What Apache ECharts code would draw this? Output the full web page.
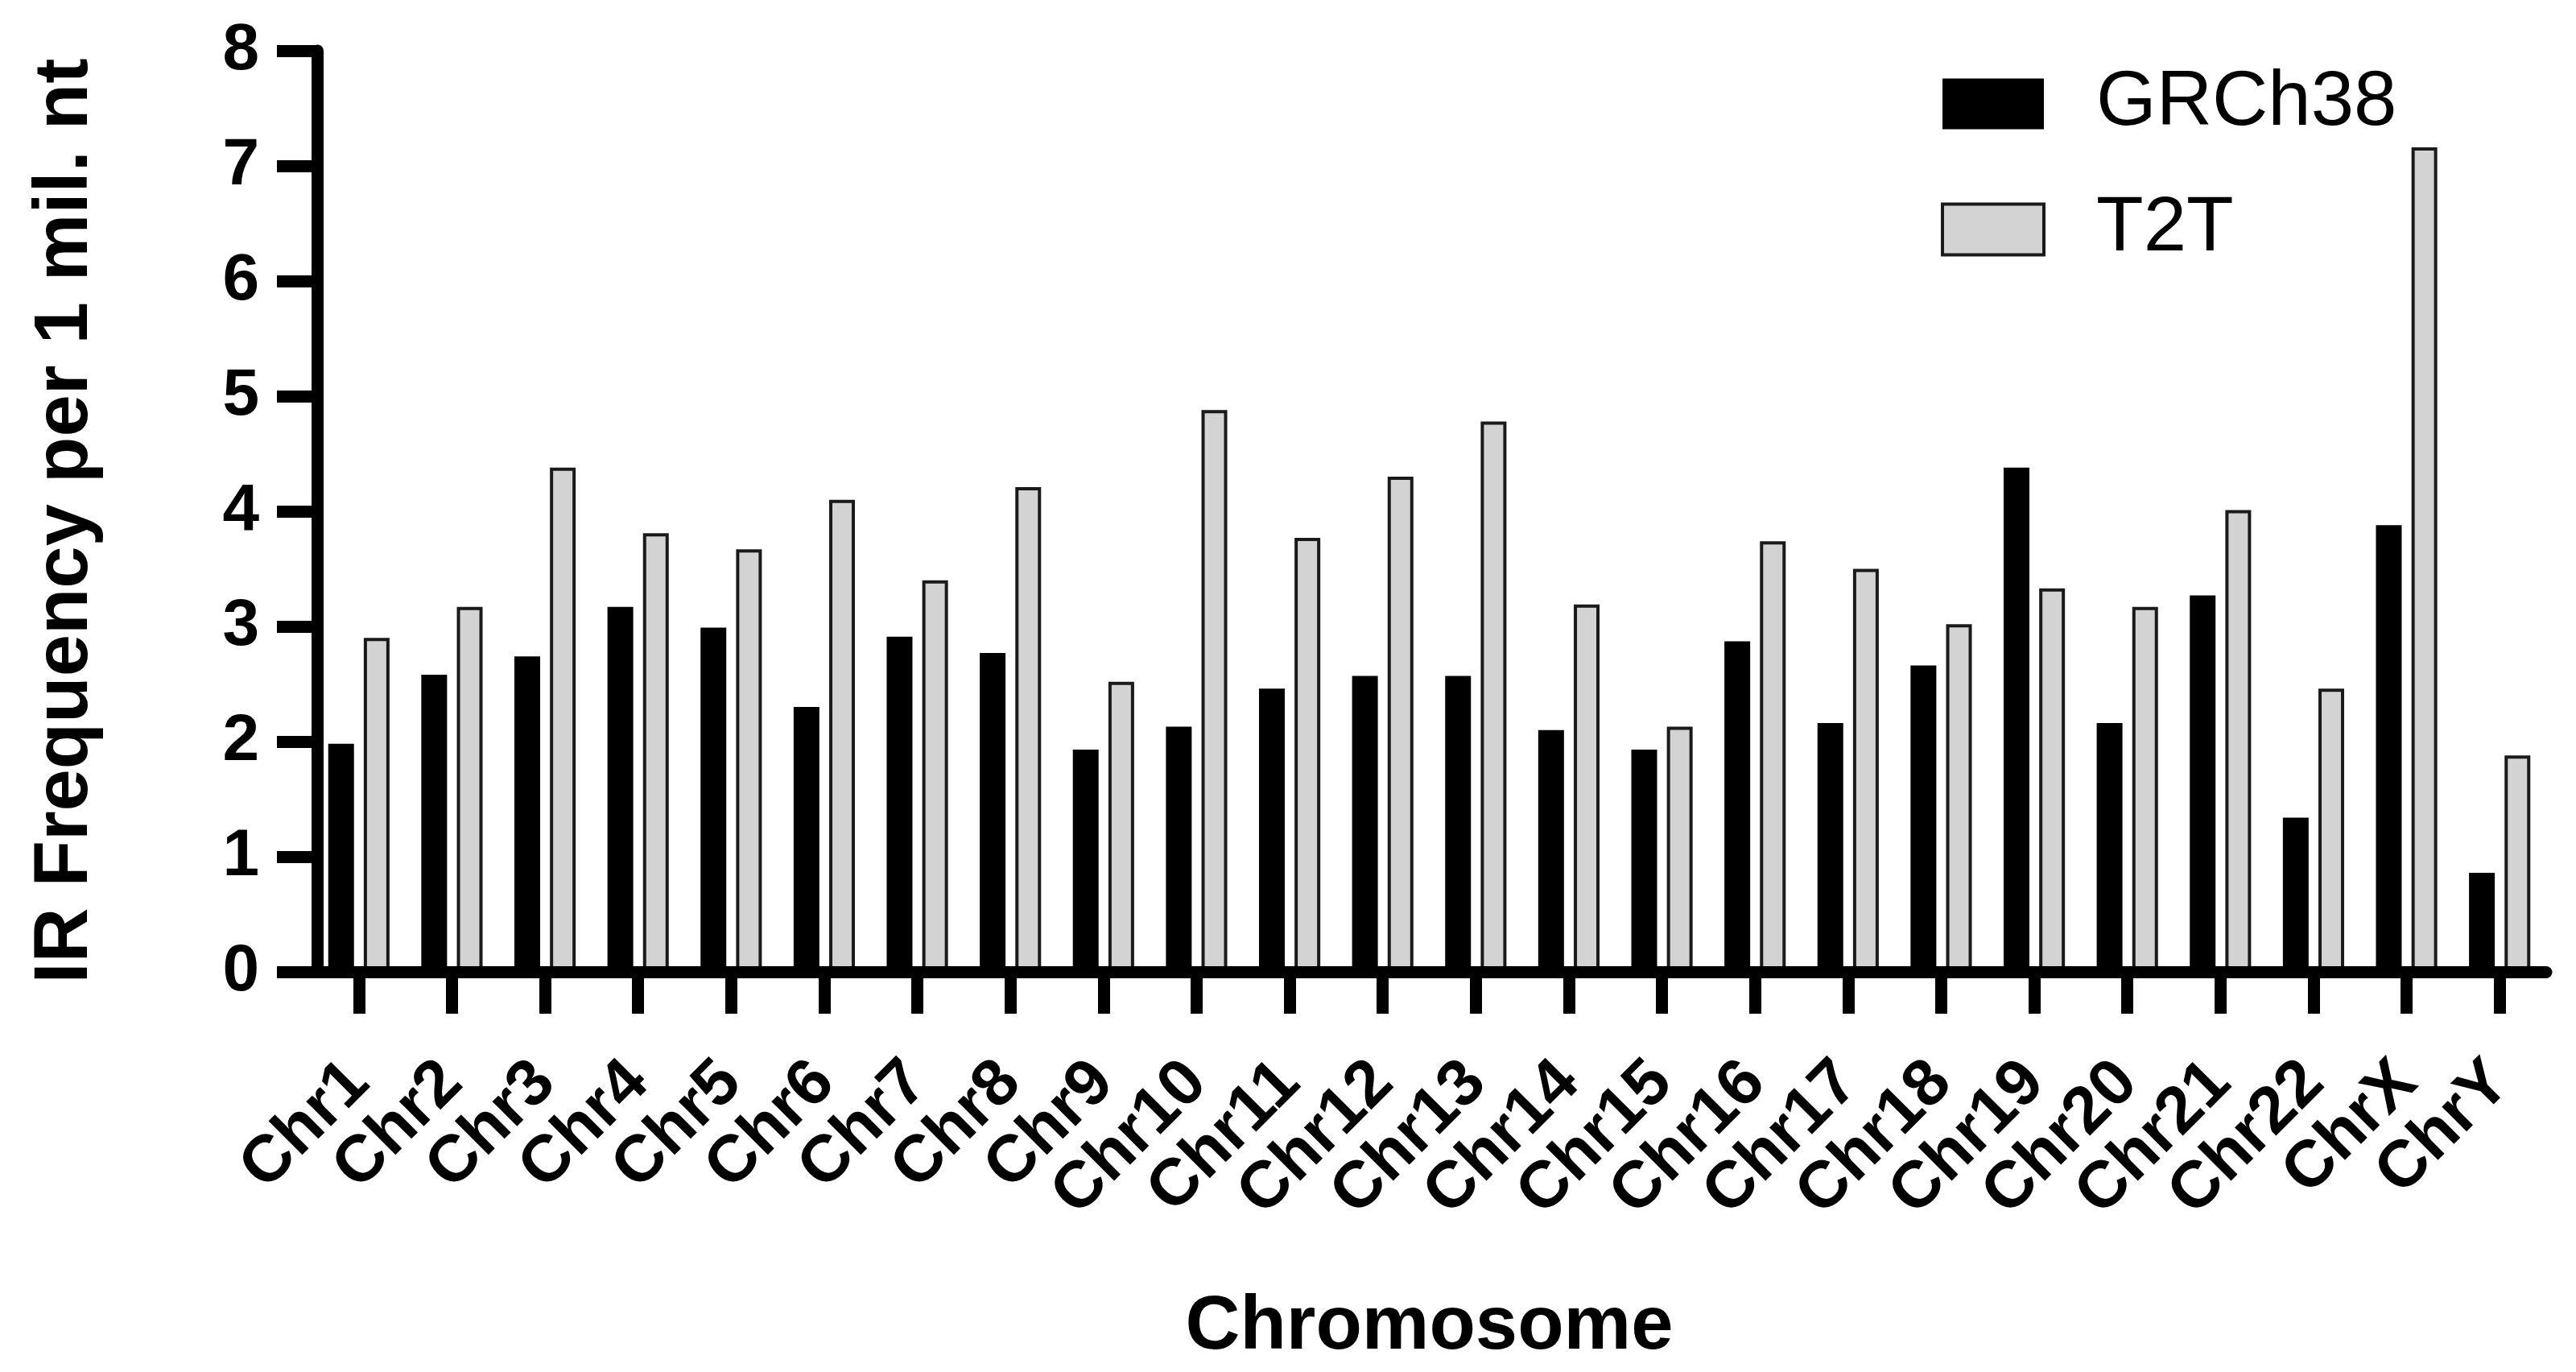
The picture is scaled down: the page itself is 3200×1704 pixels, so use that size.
<!DOCTYPE html>
<html>
<head>
<meta charset="utf-8">
<script src="https://cdn.jsdelivr.net/npm/echarts@6/dist/echarts.min.js"></script>
<style>
html,body{margin:0;padding:0;background:#fff;}
#chart{width:3200px;height:1704px;}
</style>
</head>
<body>
<div id="chart"></div>
<script>
const categories = ['Chr1','Chr2','Chr3','Chr4','Chr5','Chr6','Chr7','Chr8','Chr9','Chr10','Chr11','Chr12','Chr13','Chr14','Chr15','Chr16','Chr17','Chr18','Chr19','Chr20','Chr21','Chr22','ChrX','ChrY'];
const grch38 = [1.98, 2.58, 2.74, 3.17, 2.99, 2.30, 2.91, 2.77, 1.93, 2.13, 2.46, 2.57, 2.57, 2.10, 1.93, 2.87, 2.16, 2.66, 4.38, 2.16, 3.27, 1.34, 3.88, 0.86];
const t2t = [2.90, 3.17, 4.38, 3.81, 3.67, 4.10, 3.40, 4.21, 2.52, 4.88, 3.77, 4.30, 4.78, 3.19, 2.13, 3.74, 3.50, 3.02, 3.33, 3.17, 4.01, 2.46, 7.16, 1.88];
const yTicks = { min: 0, max: 8, interval: 1 };

const FONT = '"Liberation Sans", Arial, sans-serif';
const chart = echarts.init(document.getElementById('chart'));
chart.setOption({
  animation: false,
  backgroundColor: '#ffffff',
  textStyle: { fontFamily: FONT, color: '#000' },
  grid: { left: 388, right: 37, top: 63, bottom: 497, containLabel: false },
  legend: {
    orient: 'vertical',
    left: 2406,
    top: 76,
    itemWidth: 126,
    itemHeight: 63,
    itemGap: 60,
    icon: 'rect',
    textStyle: { fontFamily: FONT, fontSize: 96, color: '#000', padding: [0, 0, 0, 60] },
    data: [
      { name: 'GRCh38', itemStyle: { color: '#000000', borderWidth: 0 } },
      { name: 'T2T', itemStyle: { color: '#d3d3d3', borderColor: '#1a1a1a', borderWidth: 4 } }
    ]
  },
  xAxis: {
    type: 'category',
    data: categories,
    z: 5,
    name: 'Chromosome',
    nameLocation: 'middle',
    nameGap: 395,
    nameTextStyle: { fontFamily: FONT, fontSize: 94, fontWeight: 'bold', color: '#000' },
    axisLine: { show: true, lineStyle: { color: '#000', width: 15 } },
    axisTick: { show: true, alignWithLabel: true, length: 52, lineStyle: { color: '#000', width: 15 } },
    axisLabel: { interval: 0, rotate: 45, margin: 125, padding: [40, 0, 0, 0], fontFamily: FONT, fontSize: 82, fontWeight: 'bold', color: '#000' },
    splitLine: { show: false }
  },
  yAxis: {
    type: 'value',
    min: yTicks.min,
    max: yTicks.max,
    interval: yTicks.interval,
    offset: -6,
    z: 5,
    name: 'IR Frequency per 1 mil. nt',
    nameLocation: 'middle',
    nameGap: 265,
    nameTextStyle: { fontFamily: FONT, fontSize: 94, fontWeight: 'bold', color: '#000', padding: [0, 24, 0, 0] },
    axisLine: { show: true, lineStyle: { color: '#000', width: 15 } },
    axisTick: { show: true, length: 50, lineStyle: { color: '#000', width: 15 } },
    axisLabel: { margin: 72, fontFamily: FONT, fontSize: 82, fontWeight: 'bold', color: '#000' },
    splitLine: { show: false }
  },
  series: [
    {
      name: 'GRCh38',
      type: 'bar',
      data: grch38,
      barWidth: 32,
      barGap: '38%',
      itemStyle: { color: '#000000' }
    },
    {
      name: 'T2T',
      type: 'bar',
      data: t2t,
      barWidth: 32,
      barGap: '38%',
      itemStyle: { color: '#d3d3d3', borderColor: '#1a1a1a', borderWidth: 4 }
    }
  ]
});
</script>
</body>
</html>
